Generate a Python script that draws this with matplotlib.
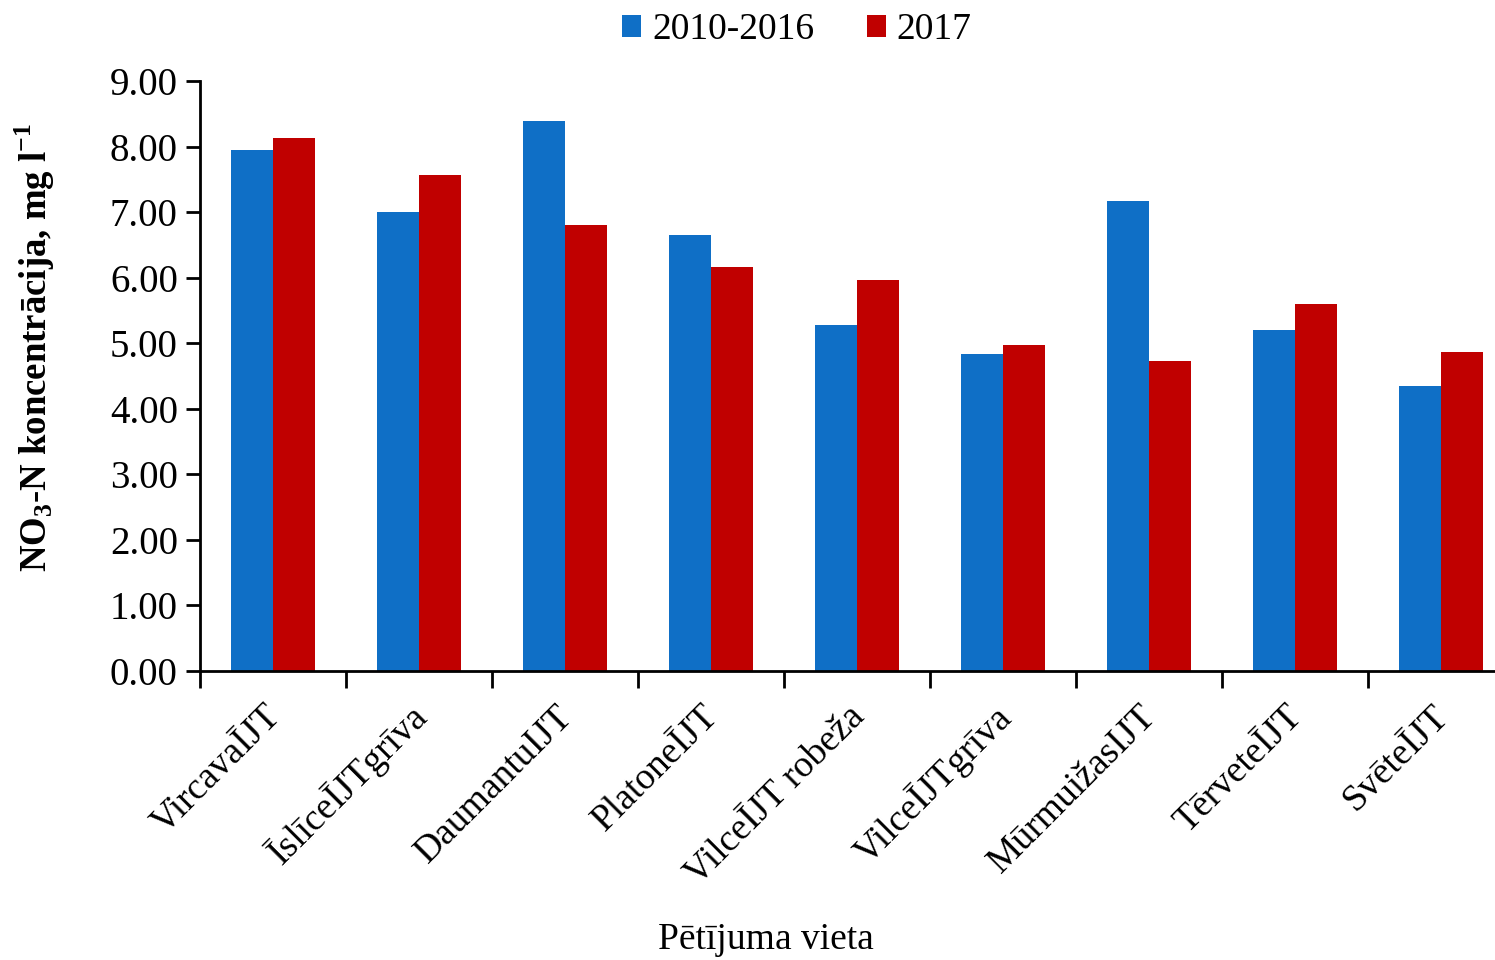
import matplotlib
matplotlib.use("Agg")
import matplotlib.pyplot as plt
import matplotlib.transforms as mtransforms
import numpy as np

plt.rcParams['font.family'] = ['Liberation Serif', 'DejaVu Serif']
plt.rcParams['mathtext.fontset'] = 'custom'
plt.rcParams['mathtext.rm'] = 'Liberation Serif'
plt.rcParams['mathtext.bf'] = 'Liberation Serif:bold'

sites = ["VircavaĪJT", "ĪslīceĪJTgrīva", "DaumantuIJT", "PlatoneĪJT",
         "VilceĪJT robeža", "VilceĪJTgrīva", "MūrmuižasIJT", "TērveteĪJT",
         "SvēteĪJT"]
vals_2010_2016 = [7.95, 7.00, 8.39, 6.65, 5.28, 4.84, 7.17, 5.20, 4.35]
vals_2017 = [8.13, 7.57, 6.80, 6.16, 5.96, 4.97, 4.73, 5.60, 4.87]
series_names = ["2010-2016", "2017"]
colors = ["#0F6FC6", "#C00000"]

fs = 27
fig = plt.figure(figsize=(14.95, 9.6), dpi=100)
ax = fig.add_axes([200 / 1495, 1 - 671 / 960, 1314 / 1495, 590 / 960])

x = np.arange(len(sites))
w = 0.288
ax.bar(x - w / 2, vals_2010_2016, w, color=colors[0], label=series_names[0])
ax.bar(x + w / 2, vals_2017, w, color=colors[1], label=series_names[1])

ax.set_xlim(-0.5, len(sites) - 0.5)
ax.set_ylim(0, 9)
ax.set_yticks(np.arange(0, 10, 1))
ax.set_yticklabels([f"{v:.2f}" for v in np.arange(0, 10, 1)], fontsize=28)

ax.set_xticks(np.arange(-0.5, len(sites), 1))
ax.set_xticklabels([])
ax.set_xticks(x, minor=True)
ax.set_xticklabels(sites, minor=True, fontsize=fs, rotation=45,
                   ha='right', va='top', rotation_mode='anchor')
ax.tick_params(axis='x', which='minor', length=0, pad=20)
ax.tick_params(axis='x', which='major', length=12, width=2, direction='out')
ax.tick_params(axis='y', length=10, width=2, direction='out', pad=6)

# nudge rotated labels a bit to the left
shift = mtransforms.ScaledTranslation(-10 / 100, 0, fig.dpi_scale_trans)
for lab in ax.get_xticklabels(minor=True):
    lab.set_transform(lab.get_transform() + shift)

for s in ['top', 'right']:
    ax.spines[s].set_visible(False)
for s in ['left', 'bottom']:
    ax.spines[s].set_linewidth(2)

fig.text(35 / 1495, 1 - 347 / 960,
         r"NO$_\mathbf{3}$-N koncentrācija, mg l$^\mathbf{-1}$",
         rotation=90, ha='center', va='center', fontsize=26.5, fontweight='bold')
fig.text(766 / 1495, 1 - 940 / 960, "Pētījuma vieta",
         ha='center', va='center', fontsize=fs)

fig.legend(loc='center', bbox_to_anchor=(797 / 1495, 1 - 30 / 960),
           ncol=2, frameon=False, fontsize=fs, handlelength=0.5,
           handleheight=0.5, handletextpad=0.3, columnspacing=1.4)

fig.savefig("out.png", dpi=100)
